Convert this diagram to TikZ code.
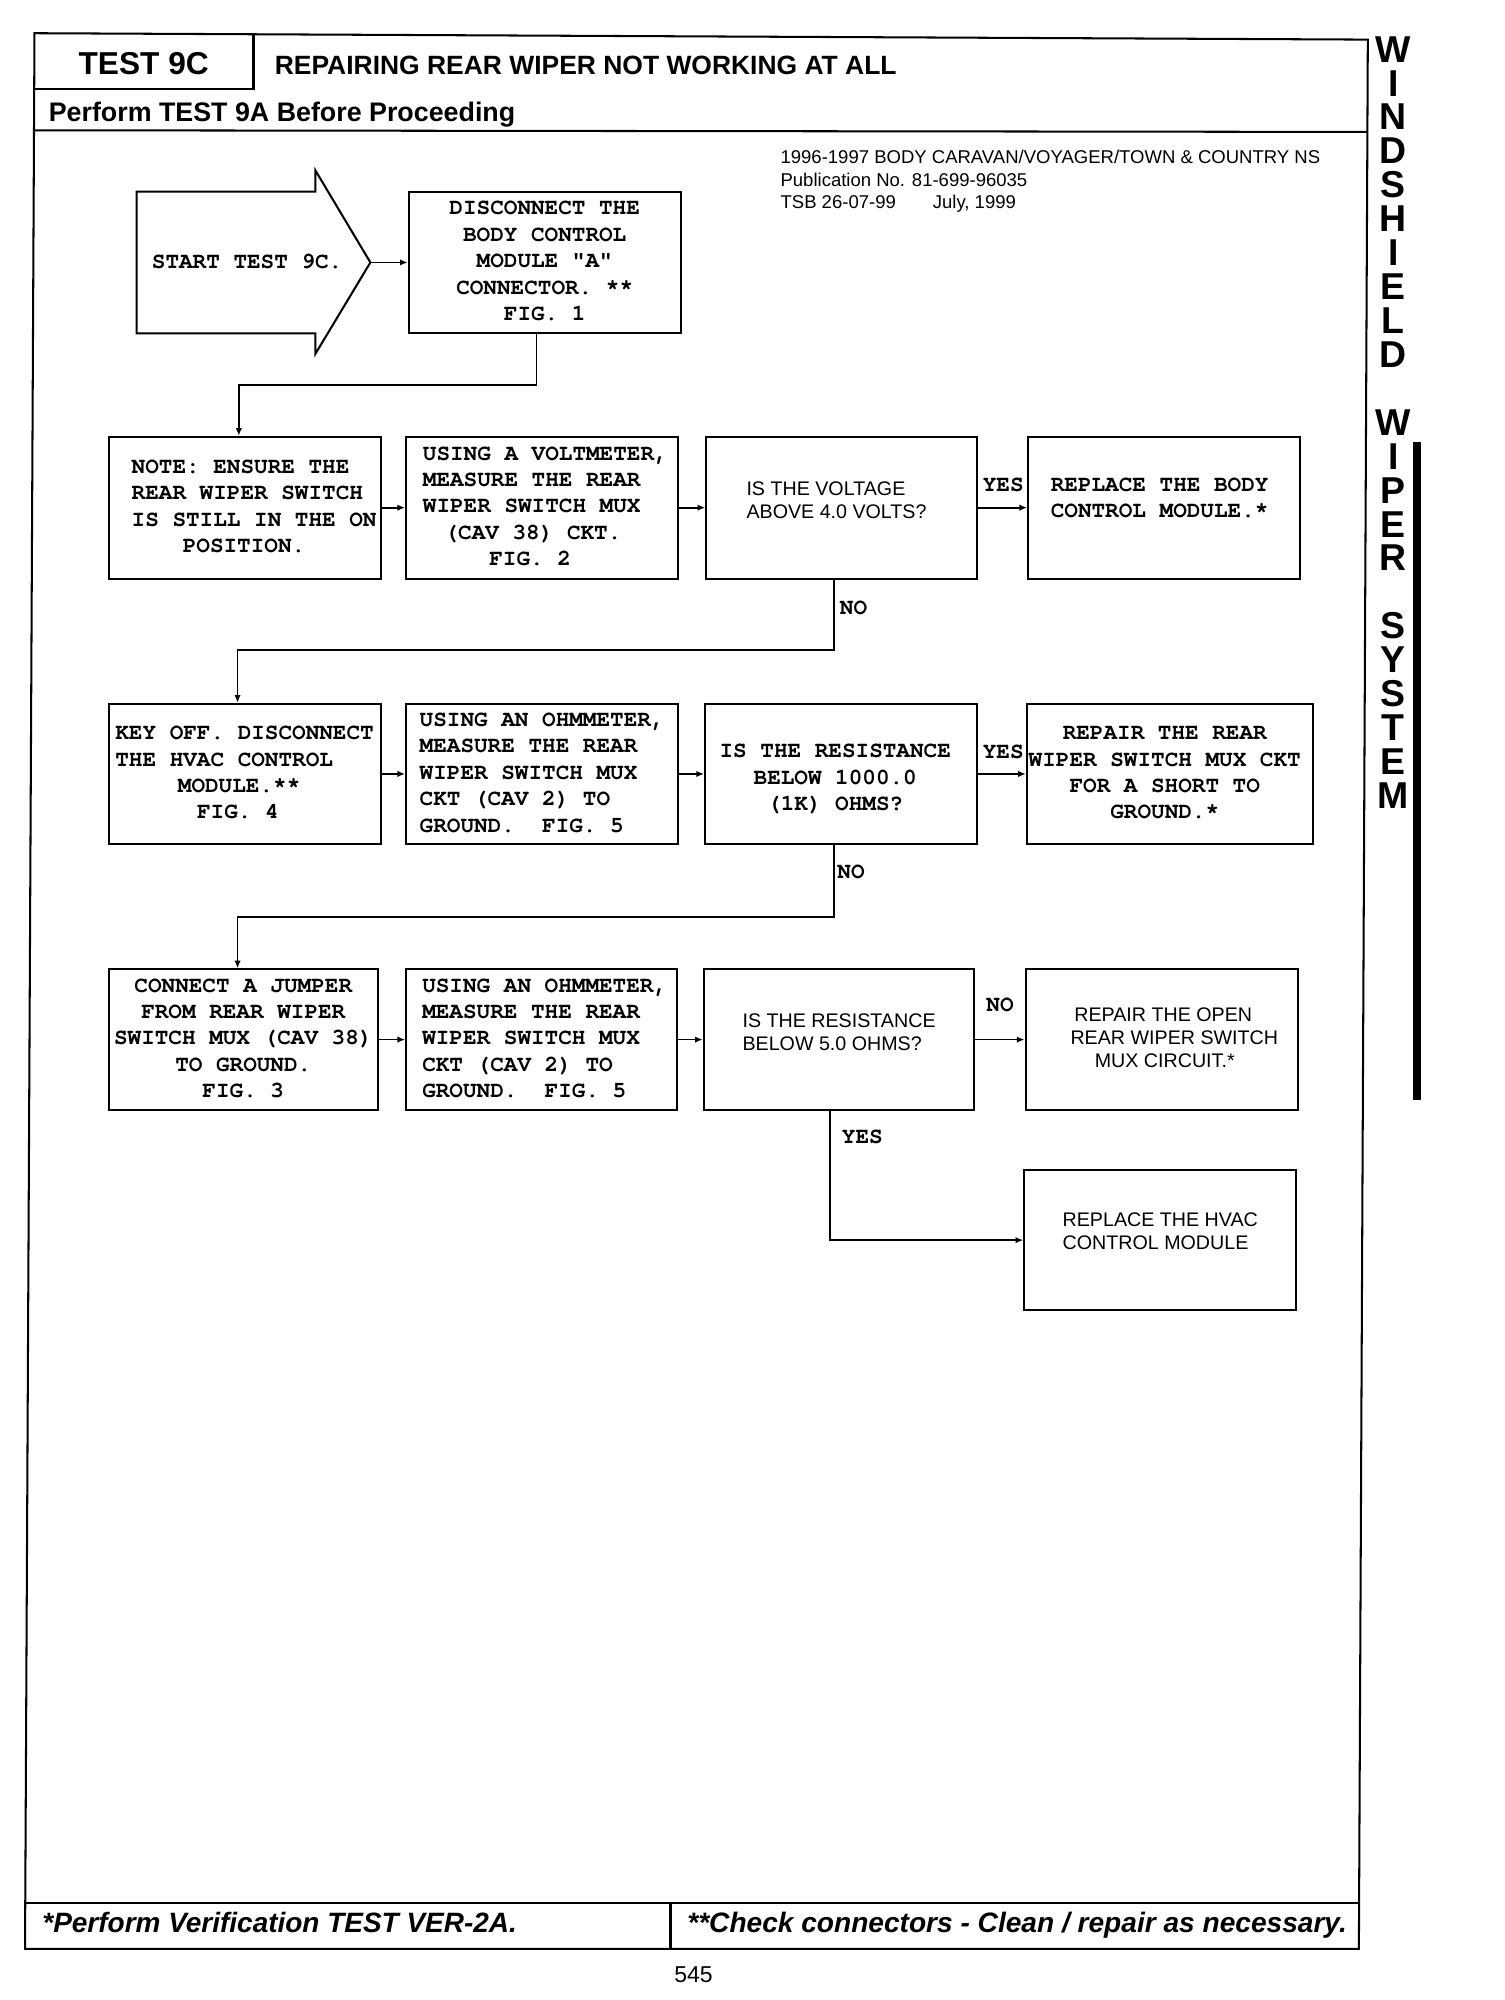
\documentclass[tikz,border=0pt]{standalone}
\usepackage{fontspec}
\setmainfont{Liberation Sans}
\setmonofont{TeX Gyre Cursor}
\usepackage{array}
\usetikzlibrary{arrows.meta}
\newcommand\mtxt{\ttfamily\bfseries\fontsize{17.75}{20.7}\selectfont}
\newcommand\stxt{\normalfont\fontsize{15.4}{18}\selectfont}
\tikzset{
  monobox/.style={draw, line width=1.6pt, inner sep=0pt, font=\mtxt},
  sansbox/.style={draw, line width=1.6pt, inner sep=0pt, font=\stxt},
  conn/.style={line width=1.3pt, -{Latex[length=6pt,width=5pt]}},
  lbl/.style={font=\mtxt, inner sep=0pt},
  frameline/.style={line width=1.6pt, line join=miter},
  plain/.style={inner sep=0pt}
}
\begin{document}
\begin{tikzpicture}[x=1pt,y=-1pt]
\useasboundingbox (0,0) rectangle (1178,1566);
\fill[white] (0,0) rectangle (1178,1566);

% frame and header
\draw[frameline] (27,26) -- (1071,31) -- (1064,1526) -- (19.6,1526) -- cycle;
\draw[frameline] (198.5,26.8) -- (198.5,70) -- (26.7,70);
\draw[frameline] (26.5,102) -- (1070.7,103.3);
\draw[frameline] (19.9,1490) -- (1064.2,1490);
\draw[frameline] (525,1490) -- (525,1526);

\node[plain, anchor=base, font=\bfseries\fontsize{24.8}{28}\selectfont] (t9c) at (112.5,58) {TEST 9C};
\node[plain, anchor=base west, font=\bfseries\fontsize{20.7}{24}\selectfont] (title) at (215,58.7) {REPAIRING REAR WIPER NOT WORKING AT ALL};
\node[plain, anchor=base west, font=\bfseries\fontsize{21}{24}\selectfont] (pre) at (38,95.4) {Perform TEST 9A Before Proceeding};

\node[plain, anchor=base west, font=\fontsize{14.5}{18}\selectfont] (pub1) at (611,127.8) {1996-1997 BODY CARAVAN/VOYAGER/TOWN \& COUNTRY NS};
\node[plain, anchor=base west, font=\fontsize{14.5}{18}\selectfont] (pub2) at (611,146) {Publication No. 81-699-96035};
\node[plain, anchor=base west, font=\fontsize{14.5}{18}\selectfont] (pub3) at (611,163) {TSB 26-07-99\hspace{29pt}July, 1999};

% side tab
\node[plain, anchor=north, align=center, font=\bfseries\fontsize{29.3}{26.56}\selectfont] (side) at (1091,28.3)
  {W\\I\\N\\D\\S\\H\\I\\E\\L\\D\\[26.56pt]W\\I\\P\\E\\R\\[26.56pt]S\\Y\\S\\T\\E\\M};
\fill (1106,346) rectangle (1113,861);

% start shape
\draw[line width=1.6pt, line join=miter] (107,150) -- (247,150) -- (247,133.5) -- (290,205.5) -- (247,277) -- (247,261) -- (107,261) -- cycle;
\coordinate (starttip) at (290,205.5);
\node[lbl] (start) at (193.5,205) {START TEST 9C.};

% boxes
\node[monobox, minimum width=213pt, minimum height=111pt] (B1) at (426.5,205.5)
  {\begin{tabular}{@{}c@{}}DISCONNECT THE\\BODY CONTROL\\MODULE "A"\\CONNECTOR. **\\FIG. 1\end{tabular}};

\node[monobox, minimum width=213pt, minimum height=111pt] (A) at (191.5,397.5)
  {\begin{tabular}{@{\hspace{15pt}}l@{}}NOTE: ENSURE THE\\REAR WIPER SWITCH\\IS STILL IN THE ON\\\hspace*{40pt}POSITION.\end{tabular}};
\node[monobox, minimum width=213pt, minimum height=111pt] (B) at (424.5,397.5)
  {\begin{tabular}{@{\hspace{5pt}}l@{}}USING A VOLTMETER,\\MEASURE THE REAR\\WIPER SWITCH MUX\\\hspace*{17pt}(CAV 38) CKT.\\\hspace*{52pt}FIG. 2\end{tabular}};
\node[sansbox, minimum width=212pt, minimum height=111pt] (C) at (659,397.5)
  {\begin{tabular}{@{}l@{\hspace{8pt}}}IS THE VOLTAGE\\ABOVE 4.0 VOLTS?\\[9pt]\end{tabular}};
\node[monobox, minimum width=213pt, minimum height=111pt] (D) at (911.5,397.5)
  {\begin{tabular}{@{}c@{\hspace{7pt}}}REPLACE THE BODY\\CONTROL MODULE.*\\[13pt]\end{tabular}};

\node[monobox, minimum width=213pt, minimum height=110pt] (E) at (191.5,606)
  {\begin{tabular}{@{}l@{}}KEY OFF. DISCONNECT\\THE HVAC CONTROL\\\hspace*{49pt}MODULE.**\\\hspace*{64pt}FIG. 4\end{tabular}};
\node[monobox, minimum width=213pt, minimum height=110pt] (F) at (424.5,606)
  {\begin{tabular}{@{}l@{}}USING AN OHMMETER,\\MEASURE THE REAR\\WIPER SWITCH MUX\\CKT (CAV 2) TO\\GROUND.~~FIG. 5\end{tabular}};
\node[monobox, minimum width=213pt, minimum height=110pt] (G) at (658.5,606)
  {\begin{tabular}{@{}c@{\hspace{9pt}}}\rule{0pt}{22.5pt}IS THE RESISTANCE\\BELOW 1000.0\\(1K) OHMS?\end{tabular}};
\node[monobox, minimum width=224pt, minimum height=110pt] (H) at (916,606)
  {\begin{tabular}{@{}c@{\hspace{8pt}}}REPAIR THE REAR\\WIPER SWITCH MUX CKT\\FOR A SHORT TO\\GROUND.*\end{tabular}};

\node[monobox, minimum width=211pt, minimum height=110pt] (I) at (190.5,814)
  {\begin{tabular}{@{}c@{}}CONNECT A JUMPER\\FROM REAR WIPER\\SWITCH MUX (CAV 38)\\TO GROUND.\\FIG. 3\end{tabular}};
\node[monobox, minimum width=212pt, minimum height=110pt] (J) at (424,814)
  {\begin{tabular}{@{\hspace{5pt}}l@{}}USING AN OHMMETER,\\MEASURE THE REAR\\WIPER SWITCH MUX\\CKT (CAV 2) TO\\GROUND.~~FIG. 5\end{tabular}};
\node[sansbox, minimum width=212pt, minimum height=110pt] (K) at (657,814)
  {\begin{tabular}{@{}l@{}}IS THE RESISTANCE\\BELOW 5.0 OHMS?\\[8pt]\end{tabular}};
\node[sansbox, minimum width=213pt, minimum height=110pt] (L) at (909.5,814)
  {\begin{tabular}{@{\hspace{20pt}}l@{}}\hspace*{3pt}REPAIR THE OPEN\\REAR WIPER SWITCH\\\hspace*{19pt}MUX CIRCUIT.*\end{tabular}};
\node[sansbox, minimum width=213pt, minimum height=110pt] (M) at (908.5,971)
  {\begin{tabular}{@{}l@{}}REPLACE THE HVAC\\CONTROL MODULE\\[10pt]\end{tabular}};

% connectors
\draw[conn] (starttip) -- (B1.west);
\draw[conn] ([xshift=-6.5pt]B1.south) -- ++(0,39.5) -| ([xshift=-4.5pt]A.north);
\draw[conn] (A) -- (B);
\draw[conn] (B) -- (C);
\draw[conn] (C) -- (D);
\draw[conn] ([xshift=-6pt]C.south) -- ++(0,55) -| ([xshift=-5.5pt]E.north);
\draw[conn] (E) -- (F);
\draw[conn] (F) -- (G);
\draw[conn] (G) -- (H);
\draw[conn] ([xshift=-5.5pt]G.south) -- ++(0,56) -| ([xshift=-4.5pt]I.north);
\draw[conn] (I) -- (J);
\draw[conn] (J) -- (K);
\draw[conn] (K) -- (L);
\draw[conn] ([xshift=-7pt]K.south) |- (M.west);

% branch labels
\node[lbl] (yes1) at (785.5,380) {YES};
\node[lbl, anchor=west] (no1) at (657.5,476) {NO};
\node[lbl] (yes2) at (785.5,589) {YES};
\node[lbl, anchor=west] (no2) at (655.5,683) {NO};
\node[lbl] (no3) at (783,787) {NO};
\node[lbl, anchor=west] (yes3) at (659,890) {YES};

% footer
\node[plain, anchor=base west, font=\bfseries\itshape\fontsize{21.9}{24}\selectfont] (footl) at (33,1513) {*Perform Verification TEST VER-2A.};
\node[plain, anchor=base west, font=\bfseries\itshape\fontsize{22}{24}\selectfont] (footr) at (538,1513) {**Check connectors - Clean / repair as necessary.};
\node[plain, anchor=base, font=\fontsize{18}{20}\selectfont] (page) at (543,1552) {545};
\end{tikzpicture}
\end{document}
